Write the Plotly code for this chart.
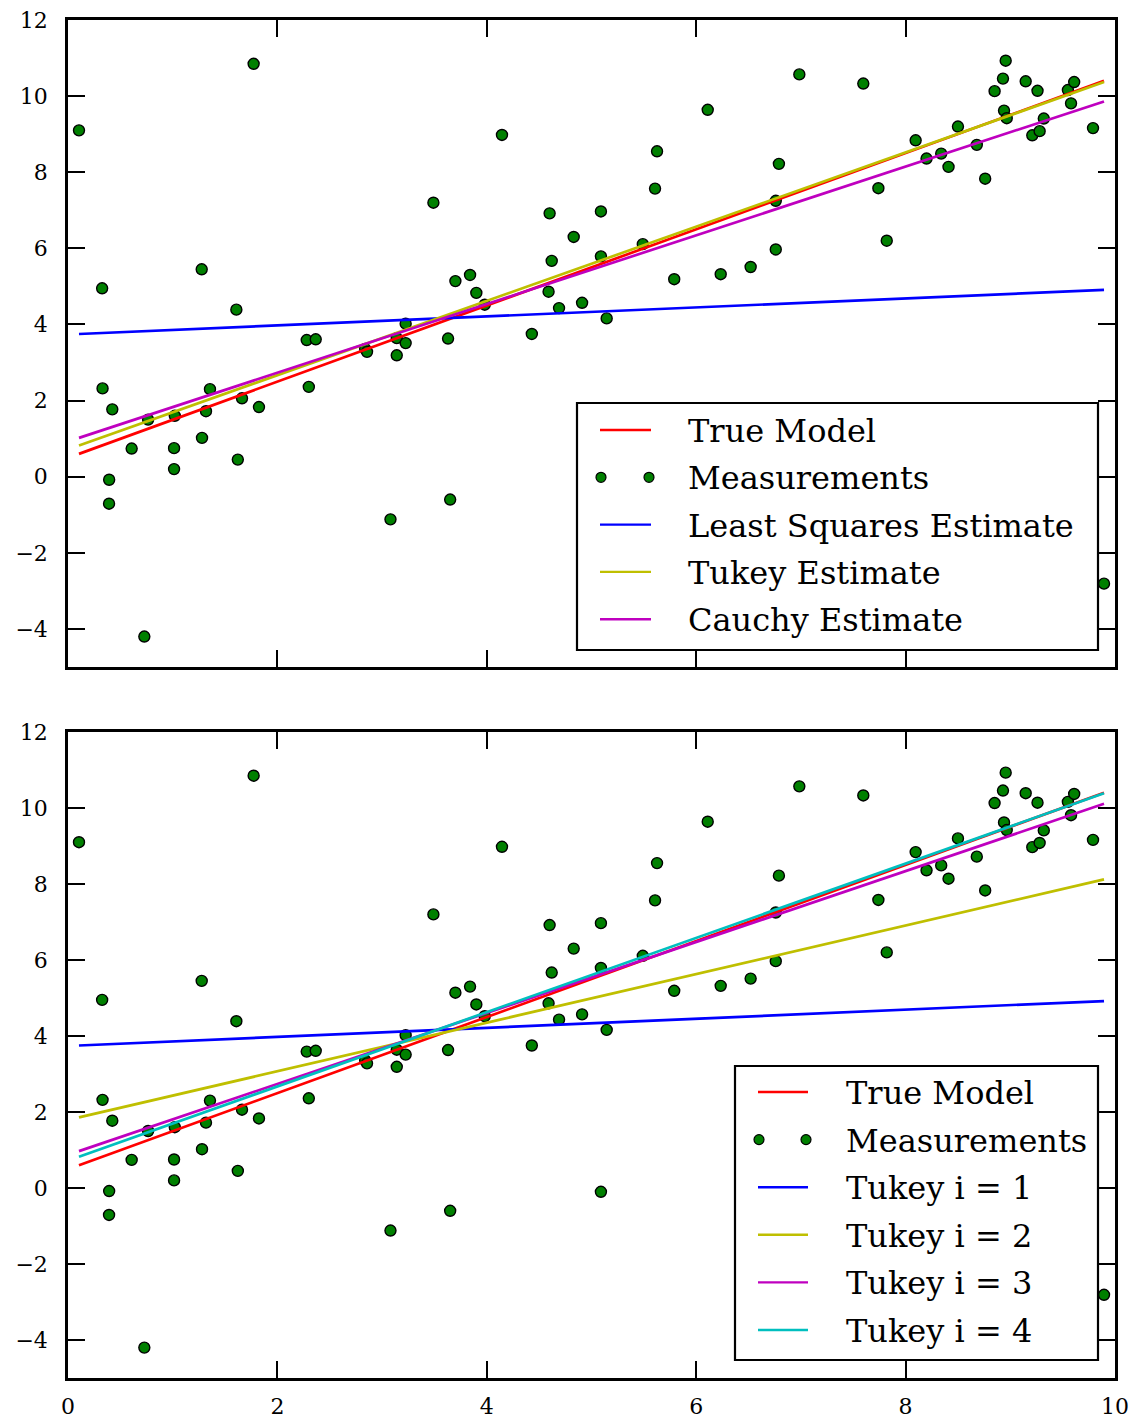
import plotly.graph_objects as go

# Measurements (x, y)
meas_x = [0.105, 0.326, 0.330, 0.393, 0.392, 0.423, 0.608, 0.729, 0.765, 1.013,
          1.013, 1.020, 1.277, 1.280, 1.318, 1.356, 1.608, 1.622, 1.662, 1.773,
          1.824, 2.280, 2.300, 2.366, 2.838, 2.856, 3.080, 3.140, 3.140, 3.225,
          3.225, 3.490, 3.630, 3.650, 3.700, 3.840, 3.900, 3.980, 4.145, 4.430,
          4.590, 4.600, 4.620, 4.690, 4.830, 4.910, 5.090, 5.090, 5.090, 5.145,
          5.490, 5.607, 5.626, 5.790, 6.110, 6.234, 6.520, 6.760, 6.760, 6.790,
          6.985, 7.596, 7.740, 7.820, 8.096, 8.200, 8.340, 8.410, 8.500, 8.680,
          8.760, 8.850, 8.930, 8.956, 8.940, 8.966, 9.147, 9.210, 9.260, 9.280,
          9.320, 9.550, 9.580, 9.610, 9.790, 9.895]
meas_y = [9.10, 4.95, 2.32, -0.08, -0.71, 1.77, 0.74, -4.20, 1.50, 0.75,
          0.20, 1.60, 5.45, 1.02, 1.72, 2.30, 4.39, 0.45, 2.06, 10.85,
          1.83, 3.59, 2.36, 3.61, 3.36, 3.28, -1.12, 3.64, 3.19, 3.51,
          4.02, 7.20, 3.63, -0.60, 5.14, 5.30, 4.83, 4.52, 8.98, 3.75,
          4.86, 6.92, 5.67, 4.43, 6.30, 4.57, 6.97, 5.79, -0.10, 4.16,
          6.11, 7.57, 8.55, 5.19, 9.64, 5.32, 5.51, 5.97, 7.25, 8.22,
          10.57, 10.33, 7.58, 6.20, 8.84, 8.36, 8.49, 8.14, 9.20, 8.72,
          7.83, 10.13, 10.46, 10.93, 9.62, 9.42, 10.39, 8.97, 10.14, 9.08,
          9.41, 10.16, 9.81, 10.37, 9.16, -2.81]

# Fitted lines: values at the first and last measurement x
true_model = [0.60, 10.40]
least_squares = [3.75, 4.91]
tukey_est = [0.82, 10.37]
cauchy_est = [1.02, 9.86]
tukey_iter = {
    "Tukey i = 1": [3.75, 4.92],
    "Tukey i = 2": [1.86, 8.12],
    "Tukey i = 3": [0.97, 10.11],
    "Tukey i = 4": [0.82, 10.39],
}

x_ticks = [0, 2, 4, 6, 8, 10]
y_ticks = [-4, -2, 0, 2, 4, 6, 8, 10, 12]

RED, GREEN, BLUE = "#FF0000", "#008000", "#0000FF"
YELLOW, MAGENTA, CYAN = "#BFBF00", "#BF00BF", "#00BFBF"
FONT = "DejaVu Serif"

W, H = 1137, 1419
L, R, T, B = 68, 1115, 20, 1378          # plot block in pixels
TOP_AX = (20, 667)                        # pixel rows of upper axes
BOT_AX = (732, 1378)                      # pixel rows of lower axes

def ydom(rows):
    return [(B - rows[1]) / (B - T), (B - rows[0]) / (B - T)]

x_ends = [min(meas_x), max(meas_x)]

fig = go.Figure()

def add_panel(xa, ya, lines):
    fig.add_trace(go.Scatter(
        x=meas_x, y=meas_y, mode="markers", xaxis=xa, yaxis=ya,
        marker=dict(size=11, color=GREEN, line=dict(color="black", width=1.4)),
        showlegend=False))
    for vals, color in lines:
        fig.add_trace(go.Scatter(
            x=x_ends, y=vals, mode="lines", xaxis=xa, yaxis=ya,
            line=dict(color=color, width=2.7), showlegend=False))

add_panel("x", "y", [(true_model, RED), (least_squares, BLUE),
                     (tukey_est, YELLOW), (cauchy_est, MAGENTA)])
iter_colors = [BLUE, YELLOW, MAGENTA, CYAN]
add_panel("x2", "y2", [(true_model, RED)] +
          [(v, c) for v, c in zip(tukey_iter.values(), iter_colors)])

shapes, annotations = [], []

def legend(xref, yref, rows, box, row0, step, samp, text_x, entries):
    top, bot = rows
    fx = lambda px: (px - L) / (R - L)
    fy = lambda py: (bot - py) / (bot - top)
    shapes.append(dict(type="rect", xref=xref, yref=yref, layer="above",
                       x0=fx(box[0]), x1=fx(box[2]), y0=fy(box[3]), y1=fy(box[1]),
                       fillcolor="white", line=dict(color="black", width=2.2)))
    for i, (label, kind, color) in enumerate(entries):
        yc = row0 + i * step
        if kind == "line":
            shapes.append(dict(type="line", xref=xref, yref=yref, layer="above",
                               x0=fx(samp[0]), x1=fx(samp[1]), y0=fy(yc), y1=fy(yc),
                               line=dict(color=color, width=2.4)))
        else:
            for cx in (samp[0] + 1, samp[1] - 2):
                shapes.append(dict(type="circle", xref=xref, yref=yref, layer="above",
                                   x0=fx(cx - 5), x1=fx(cx + 5),
                                   y0=fy(yc + 5), y1=fy(yc - 5),
                                   fillcolor=color, line=dict(color="black", width=1.2)))
        annotations.append(dict(text=label, xref=xref, yref=yref, showarrow=False,
                                x=fx(text_x), y=fy(yc + 1), xanchor="left",
                                yanchor="middle",
                                font=dict(family=FONT, size=32, color="black")))

legend("x domain", "y domain", TOP_AX, (577, 403, 1098, 650), 430, 47.3, (600, 651), 686,
       [("True Model", "line", RED), ("Measurements", "marker", GREEN),
        ("Least Squares Estimate", "line", BLUE), ("Tukey Estimate", "line", YELLOW),
        ("Cauchy Estimate", "line", MAGENTA)])
legend("x2 domain", "y2 domain", BOT_AX, (735, 1066, 1098, 1360), 1092, 47.6, (758, 808), 844,
       [("True Model", "line", RED), ("Measurements", "marker", GREEN)] +
       [(k, "line", c) for k, c in zip(tukey_iter.keys(), iter_colors)])

axis_style = dict(showline=True, linecolor="black", linewidth=2.5, mirror="ticks",
                  ticks="inside", ticklen=17, tickwidth=2, tickcolor="black",
                  showgrid=False, zeroline=False, automargin=False,
                  tickfont=dict(family=FONT, size=22, color="black"))

fig.update_layout(
    width=W, height=H,
    margin=dict(l=L, r=W - R, t=T, b=H - B, autoexpand=False),
    paper_bgcolor="white", plot_bgcolor="white",
    showlegend=False,
    xaxis=dict(domain=[0, 1], anchor="y", range=[0, 10], tickvals=x_ticks,
               showticklabels=False, **axis_style),
    yaxis=dict(domain=ydom(TOP_AX), anchor="x", range=[-5, 12], tickvals=y_ticks,
               ticklabelstandoff=13, **axis_style),
    xaxis2=dict(domain=[0, 1], anchor="y2", range=[0, 10], tickvals=x_ticks,
                ticklabelstandoff=7, **axis_style),
    yaxis2=dict(domain=ydom(BOT_AX), anchor="x2", range=[-5, 12], tickvals=y_ticks,
                ticklabelstandoff=13, **axis_style),
    shapes=shapes, annotations=annotations,
)

fig.write_html("out.html")
